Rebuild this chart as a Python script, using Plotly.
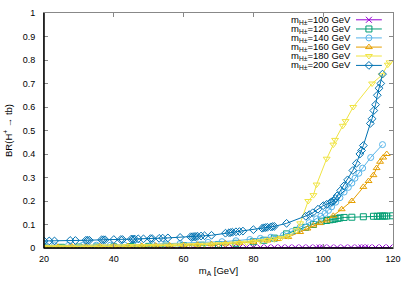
import plotly.graph_objects as go

# ---------------- data ----------------
x100 = [20, 24, 28, 32, 36, 40, 44, 48, 52, 56, 60, 62, 64, 66, 68, 70, 72, 74, 76, 78, 80, 82, 84, 86, 88, 90,
        92, 94, 96, 98, 99, 100, 102, 104, 106, 108, 110, 111, 112, 113, 115, 117, 119]
y100 = [0.002, 0.002, 0.002, 0.002, 0.002, 0.002, 0.002, 0.002, 0.002, 0.002, 0.002, 0.002, 0.002, 0.002, 0.002,
        0.002, 0.002, 0.002, 0.002, 0.002, 0.002, 0.002, 0.002, 0.002, 0.002, 0.002, 0.002, 0.002, 0.002, 0.002,
        0.002, 0.002, 0.002, 0.002, 0.002, 0.002, 0.002, 0.002, 0.002, 0.002, 0.002, 0.002, 0.002]

x120 = [20, 25, 30, 35, 40, 45, 50, 55, 60, 65, 70, 75, 80, 83, 86, 89.5, 92.4, 95, 97.2, 99.5, 101, 102,
        102.8, 103.4, 104.2, 104.8, 106, 108.2, 111.5, 114.4, 115.5, 116.3, 117, 117.6, 118.2, 119.9]
y120 = [0.003, 0.003, 0.004, 0.004, 0.005, 0.006, 0.007, 0.008, 0.010, 0.012, 0.015, 0.020, 0.027, 0.033, 0.042,
        0.060, 0.075, 0.088, 0.100, 0.114, 0.117, 0.120, 0.122, 0.124, 0.126, 0.128, 0.130, 0.131, 0.133, 0.135,
        0.135, 0.136, 0.136, 0.136, 0.136, 0.137]

x140 = [20, 23, 27, 31, 35, 39, 43, 47, 51, 55, 59, 63, 67, 71, 75, 79, 82, 85, 88.6, 91, 93.4, 96, 98.1, 99.3,
        100.5, 101.5, 102.4, 103.6, 104.8, 106, 107.2, 108.2, 109.1, 110.2, 111.3, 113.6, 117]
y140 = [0.010, 0.010, 0.011, 0.011, 0.012, 0.012, 0.013, 0.014, 0.016, 0.017, 0.019, 0.021, 0.024, 0.027, 0.031,
        0.036, 0.041, 0.046, 0.054, 0.070, 0.089, 0.108, 0.124, 0.135, 0.147, 0.160, 0.175, 0.195, 0.214, 0.238,
        0.258, 0.276, 0.297, 0.318, 0.340, 0.385, 0.440]

x160 = [20, 24, 28, 32, 36, 40, 44, 48, 52, 56, 60, 64, 68, 72, 76, 80, 84, 87, 90, 93.4, 95.5, 97.2, 99,
        101, 102.9, 105.3, 108.2, 111.5, 113, 114.4, 115.3, 116.3, 117.2, 118.2]
y160 = [0.005, 0.005, 0.006, 0.006, 0.007, 0.008, 0.008, 0.009, 0.010, 0.011, 0.012, 0.014, 0.016, 0.019, 0.022,
        0.026, 0.032, 0.038, 0.047, 0.068, 0.083, 0.096, 0.106, 0.117, 0.137, 0.165, 0.200, 0.260, 0.285, 0.310,
        0.340, 0.367, 0.385, 0.400]

x180 = [20, 22, 24, 26, 28, 30, 32, 34, 36, 38, 40, 42, 44, 46, 48, 50, 52, 54, 56, 58, 60, 62, 64, 66, 68, 70,
        72, 74, 76, 78, 80, 82, 84, 86, 88, 90, 92.4, 93.4, 95.7, 97.2, 98.1, 101, 102.9, 103.4, 105.6, 106.4,
        108.6, 114, 116.8, 118.5, 119]
y180 = [0.005, 0.005, 0.005, 0.005, 0.006, 0.006, 0.006, 0.006, 0.007, 0.007, 0.007, 0.007, 0.008, 0.008, 0.008,
        0.009, 0.009, 0.010, 0.010, 0.011, 0.011, 0.012, 0.013, 0.014, 0.015, 0.016, 0.017, 0.019, 0.021, 0.023,
        0.026, 0.029, 0.033, 0.037, 0.043, 0.050, 0.075, 0.105, 0.200, 0.225, 0.270, 0.380, 0.440, 0.460, 0.520,
        0.540, 0.600, 0.700, 0.735, 0.780, 0.790]

x200 = [20, 21.5, 23, 27.5, 29, 32, 32.5, 33, 36.5, 37, 37.5, 40, 42, 42.5, 45, 45.5, 46, 47, 48.5, 50.5, 51, 53,
        54, 55.5, 59, 62, 62.5, 63, 63.5, 64, 65, 66, 68, 72, 73, 73.5, 74, 75, 76, 77, 80, 82.5, 83, 83.5, 84,
        85, 85.5, 86, 89.5, 95, 96, 97, 98.5, 100, 101, 102, 102.5, 103, 103.5, 104, 105, 106, 107, 108.5, 109.5,
        110.5, 111, 111.5, 113.5, 114, 114.5, 115, 115.5, 116, 116.5, 117]
y200 = [0.030, 0.030, 0.030, 0.032, 0.032, 0.033, 0.033, 0.033, 0.035, 0.035, 0.035, 0.036, 0.036, 0.036, 0.038,
        0.038, 0.038, 0.039, 0.039, 0.040, 0.040, 0.041, 0.042, 0.043, 0.045, 0.048, 0.048, 0.049, 0.049, 0.050,
        0.051, 0.052, 0.054, 0.063, 0.065, 0.066, 0.067, 0.069, 0.070, 0.072, 0.078, 0.084, 0.086, 0.087, 0.088,
        0.090, 0.091, 0.092, 0.105, 0.135, 0.142, 0.150, 0.165, 0.180, 0.186, 0.193, 0.197, 0.200, 0.210, 0.222,
        0.245, 0.265, 0.290, 0.330, 0.360, 0.400, 0.415, 0.436, 0.530, 0.550, 0.585, 0.610, 0.650, 0.680, 0.700,
        0.740]

labels = ["m<sub>H±</sub>=100 GeV", "m<sub>H±</sub>=120 GeV", "m<sub>H±</sub>=140 GeV",
          "m<sub>H±</sub>=160 GeV", "m<sub>H±</sub>=180 GeV", "m<sub>H±</sub>=200 GeV"]
colors = ["#9400d3", "#009e73", "#56b4e9", "#e69f00", "#f0e442", "#0072b2"]
symbols = ["x-thin-open", "square-open", "circle-open", "triangle-up-open", "triangle-down-open", "diamond-open"]

x_ticks = [20, 40, 60, 80, 100, 120]
y_ticks = [0, 0.1, 0.2, 0.3, 0.4, 0.5, 0.6, 0.7, 0.8, 0.9, 1]

# legend key rows (key axis is the plot frame scaled to 0..1)
key_rows = [0.971, 0.932, 0.894, 0.855, 0.817, 0.777]

series = [(x100, y100), (x120, y120), (x140, y140), (x160, y160), (x180, y180), (x200, y200)]

FONT = "Liberation Sans, Arial, DejaVu Sans, sans-serif"

fig = go.Figure()
for (xs, ys), lab, col, sym in zip(series, labels, colors, symbols):
    fig.add_trace(go.Scatter(
        x=xs, y=ys, mode="lines+markers", name=lab, showlegend=False,
        line=dict(color=col, width=1),
        marker=dict(symbol=sym, size=6, color=col, line=dict(color=col, width=1)),
    ))

# gnuplot-style key: text right, sample line + marker on the right
for row, lab, col, sym in zip(key_rows, labels, colors, symbols):
    fig.add_trace(go.Scatter(
        x=[0.894, 0.968], y=[row, row], xaxis="x2", yaxis="y2", mode="lines",
        line=dict(color=col, width=1), showlegend=False, hoverinfo="skip"))
    fig.add_trace(go.Scatter(
        x=[0.931], y=[row], xaxis="x2", yaxis="y2", mode="markers",
        marker=dict(symbol=sym, size=6, color=col, line=dict(color=col, width=1)),
        showlegend=False, hoverinfo="skip"))
    fig.add_annotation(x=0.884, y=row, xref="x2", yref="y2", text=lab, showarrow=False,
                       xanchor="right", yanchor="middle", font=dict(size=9.5, color="#000", family=FONT))

fig.update_layout(
    width=409, height=286,
    margin=dict(l=44, r=16, t=8, b=38),
    plot_bgcolor="white", paper_bgcolor="white",
    font=dict(family=FONT, size=9, color="#000"),
    xaxis=dict(range=[20, 120], tickvals=x_ticks, ticks="inside", ticklen=4, tickcolor="#888",
               showline=True, linecolor="#888", linewidth=1, mirror="ticks", showgrid=False, zeroline=False,
               ticklabelstandoff=2,
               title=dict(text="m<sub>A</sub> [GeV]", standoff=4, font=dict(size=9.5))),
    yaxis=dict(range=[0, 1], tickvals=y_ticks, ticks="inside", ticklen=4, tickcolor="#888",
               showline=True, linecolor="#888", linewidth=1, mirror="ticks", showgrid=False, zeroline=False,
               ticklabelstandoff=6,
               title=dict(text="BR(H<sup>+</sup> → tb)", standoff=8, font=dict(size=9.5))),
    xaxis2=dict(overlaying="x", range=[0, 1], visible=False, fixedrange=True),
    yaxis2=dict(overlaying="y", range=[0, 1], visible=False, fixedrange=True),
)
# black left and bottom axes
fig.add_shape(type="line", xref="paper", yref="paper", x0=0, x1=0, y0=0, y1=1, line=dict(color="black", width=1.5))
fig.add_shape(type="line", xref="paper", yref="paper", x0=0, x1=1, y0=0, y1=0, line=dict(color="black", width=1.5))

fig.write_html("out.html", config={"displayModeBar": False},
               post_script="document.body.style.margin='0';document.body.style.overflow='hidden';")
